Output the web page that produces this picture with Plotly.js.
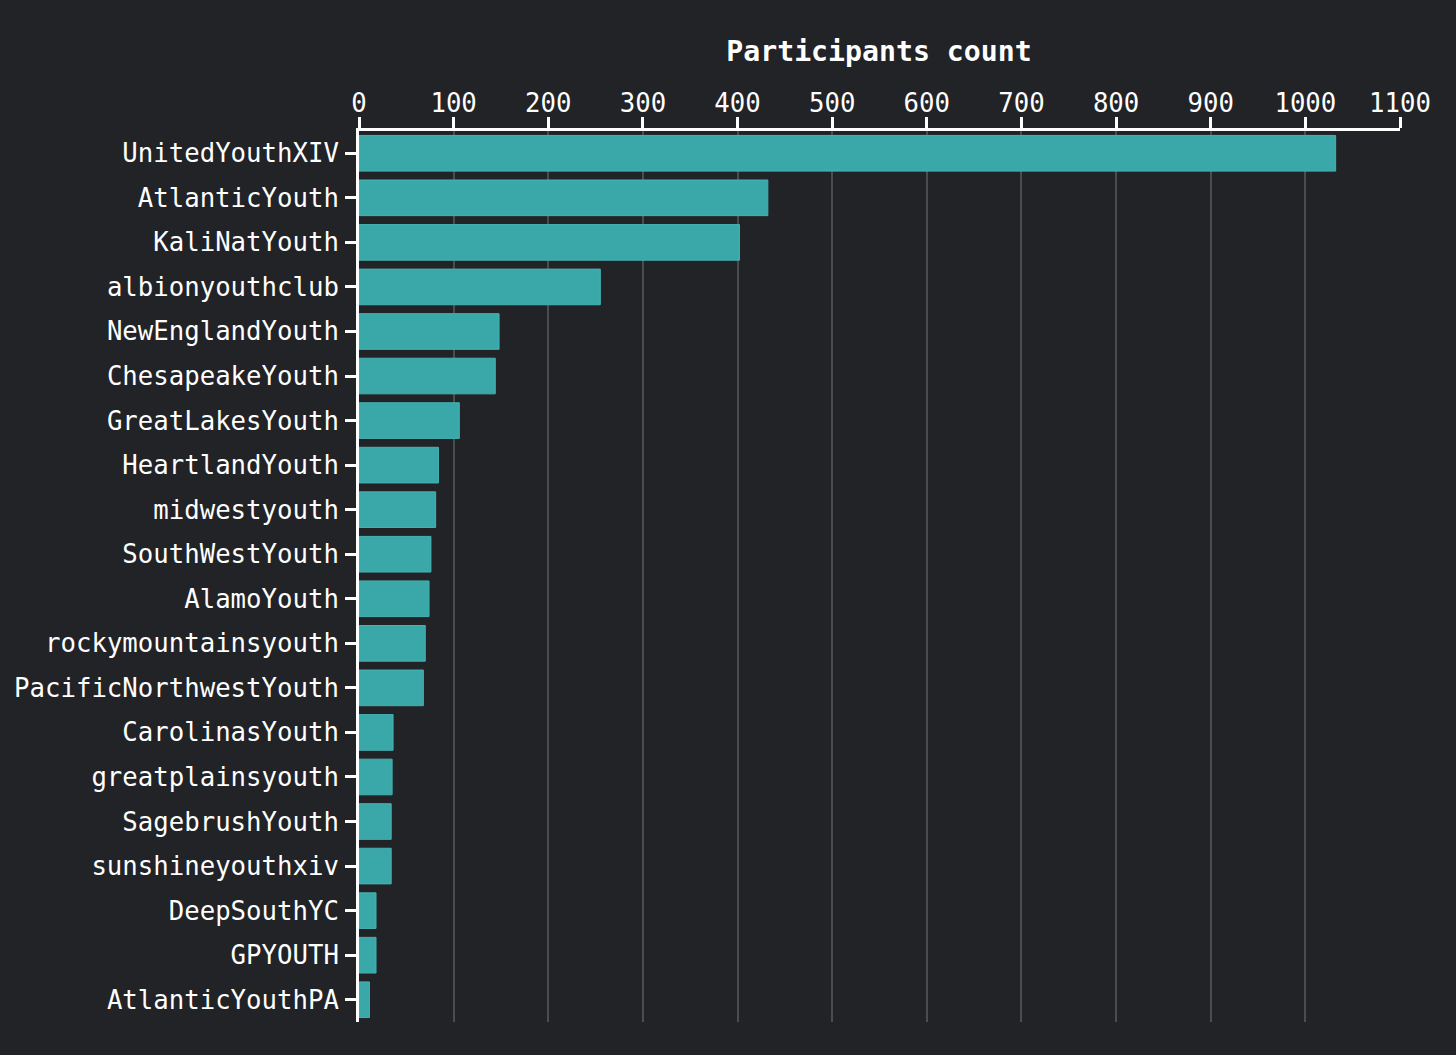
<!DOCTYPE html>
<html>
<head>
<meta charset="utf-8">
<script src="https://cdn.plot.ly/plotly-3.0.1.min.js"></script>
<style>
  html, body { margin: 0; padding: 0; background: #222327; }
  #chart { width: 1456px; height: 1055px; }
</style>
</head>
<body>
<div id="chart"></div>
<script>
// participants per group
var groups = [
    'UnitedYouthXIV', 'AtlanticYouth', 'KaliNatYouth', 'albionyouthclub',
    'NewEnglandYouth', 'ChesapeakeYouth', 'GreatLakesYouth', 'HeartlandYouth',
    'midwestyouth', 'SouthWestYouth', 'AlamoYouth', 'rockymountainsyouth',
    'PacificNorthwestYouth', 'CarolinasYouth', 'greatplainsyouth', 'SagebrushYouth',
    'sunshineyouthxiv', 'DeepSouthYC', 'GPYOUTH', 'AtlanticYouthPA'
];
var participants = [
    1032, 432, 402, 255,
    148, 144, 106, 84,
    81, 76, 74, 70,
    68, 36, 35, 34,
    34, 18, 18, 11
];
var xTicks = [0, 100, 200, 300, 400, 500, 600, 700, 800, 900, 1000, 1100];

var mono = 'DejaVu Sans Mono, Liberation Mono, monospace';

var trace = {
    type: 'bar',
    orientation: 'h',
    x: participants,
    y: groups,
    marker: {
        color: '#3aa8a9',
        line: { color: '#44b3b3', width: 1 }
    },
    hoverinfo: 'x+y'
};

var layout = {
    width: 1456,
    height: 1055,
    paper_bgcolor: '#222327',
    plot_bgcolor: '#222327',
    margin: { l: 359, r: 56, t: 131, b: 33 },
    bargap: 0.2,
    showlegend: false,
    font: { family: mono, color: '#ffffff', size: 25.7 },
    title: {
        text: '<b>Participants count</b>',
        font: { family: mono, size: 28.2, color: '#ffffff' },
        x: 0.6037,
        xanchor: 'center',
        y: 0.952,
        yanchor: 'middle',
        yref: 'container'
    },
    xaxis: {
        side: 'top',
        range: [0, 1100],
        tickvals: xTicks,
        ticktext: xTicks.map(String),
        showgrid: true,
        gridcolor: '#4b4c4f',
        gridwidth: 2,
        zeroline: false,
        showline: true,
        linecolor: '#ffffff',
        linewidth: 3,
        ticks: 'outside',
        ticklen: 11,
        tickwidth: 3,
        tickcolor: '#ffffff',
        ticklabelstandoff: -5,
        tickfont: { family: mono, size: 25.7, color: '#ffffff' }
    },
    yaxis: {
        autorange: false,
        range: [19.5, -0.5],
        type: 'category',
        showgrid: false,
        zeroline: false,
        showline: true,
        linecolor: '#ffffff',
        linewidth: 3,
        ticks: 'outside',
        ticklen: 11,
        tickwidth: 3,
        tickcolor: '#ffffff',
        ticklabelstandoff: 1,
        tickfont: { family: mono, size: 25.7, color: '#ffffff' }
    }
};

Plotly.newPlot('chart', [trace], layout, { displayModeBar: false, staticPlot: true });
</script>
</body>
</html>
